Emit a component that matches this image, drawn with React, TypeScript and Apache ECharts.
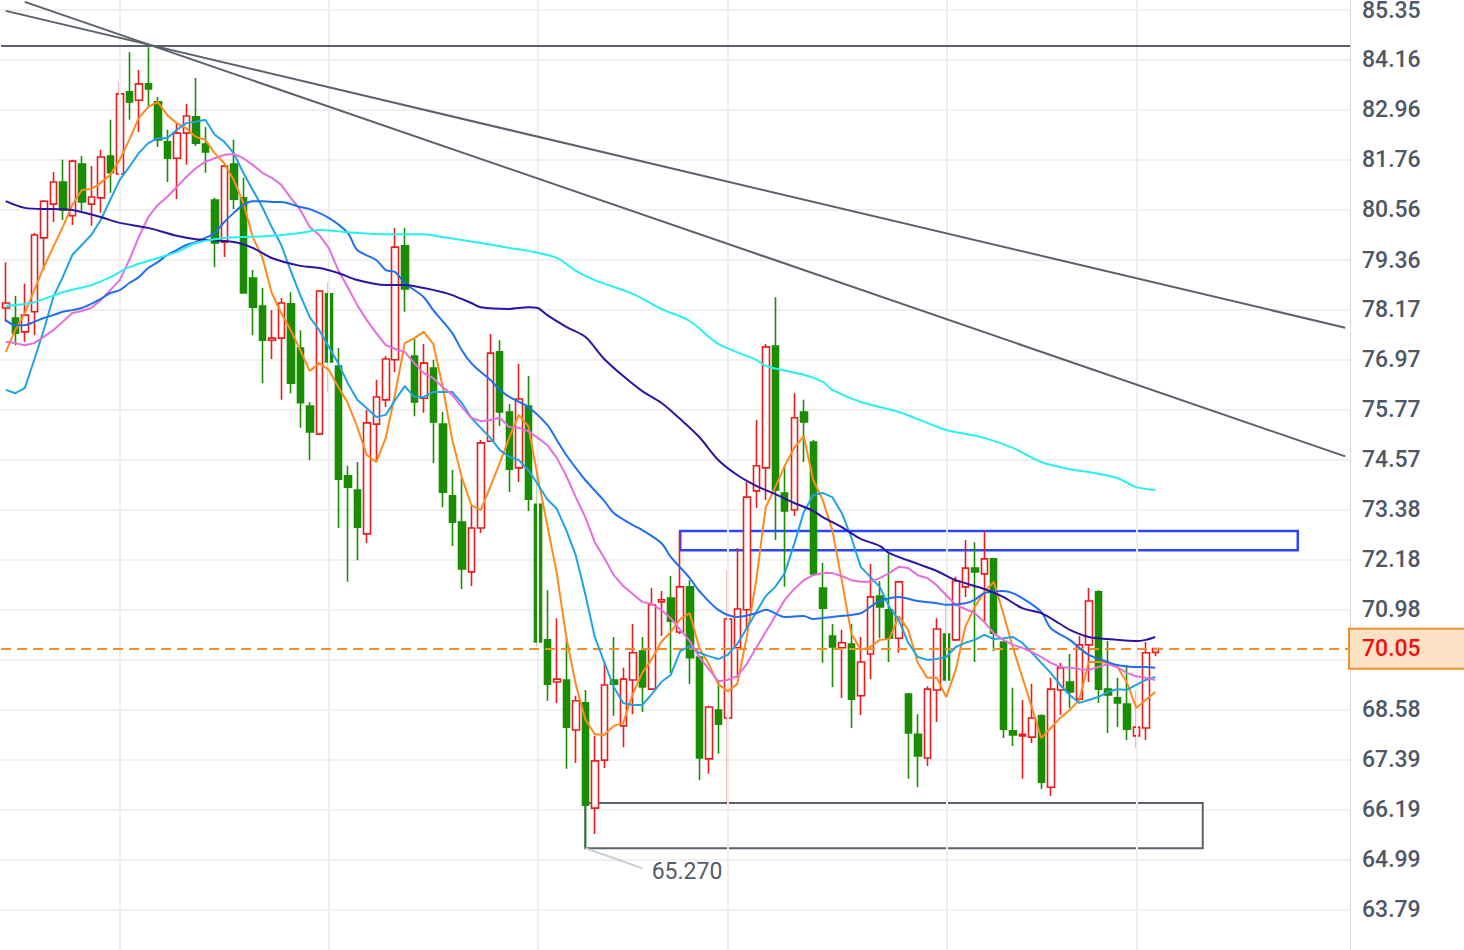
import React, { useEffect, useRef } from "react";
import * as echarts from "echarts";

// ---------- tick labels of the price axis ----------
const yLabels = [85.35, 84.16, 82.96, 81.76, 80.56, 79.36, 78.17, 76.97, 75.77, 74.57, 73.38, 72.18, 70.98, 69.78, 68.58, 67.39, 66.19, 64.99, 63.79];
const yMin = 62.83;
const yMax = 85.59;

// ---------- categories (trading sessions + empty future slots) ----------
const totalSlots = 142;
const categories = Array.from({ length: totalSlots }, (_, i) => `K${i + 1}`);
const monthStarts = [12, 34, 56, 76, 99, 119];

// ---------- candles: [open, close, low, high] ----------
const candles = [
  [78.21, 78.33, 77.88, 79.31], [77.97, 77.61, 77.32, 78.50], [77.64, 78.04, 77.40, 78.79], [78.12, 79.96, 77.56, 80.01],
  [79.89, 80.77, 79.12, 80.80], [80.70, 81.23, 80.27, 81.47], [81.23, 80.56, 80.32, 81.76], [80.42, 81.73, 80.20, 81.76],
  [81.66, 80.75, 80.54, 81.85], [80.70, 80.87, 80.18, 81.61], [80.85, 81.83, 80.49, 82.00], [81.85, 81.45, 80.97, 82.72],
  [81.42, 83.34, 81.40, 83.63], [83.39, 83.15, 82.72, 84.34], [83.19, 83.58, 82.43, 83.91], [83.58, 83.46, 83.03, 84.46],
  [83.15, 82.24, 82.07, 83.27], [82.19, 81.80, 81.23, 82.48], [81.80, 82.40, 80.82, 82.62], [82.40, 82.81, 81.64, 83.10],
  [82.79, 82.16, 82.09, 83.72], [82.14, 81.95, 81.45, 82.55], [80.80, 79.77, 79.19, 80.85], [79.79, 81.61, 79.43, 81.64],
  [81.66, 80.82, 80.58, 82.24], [80.85, 78.57, 78.57, 81.33], [78.93, 78.23, 77.56, 79.12], [78.26, 77.44, 76.41, 78.69],
  [77.44, 77.49, 76.99, 78.16], [77.49, 78.33, 76.01, 78.45], [78.31, 76.41, 76.17, 78.59], [77.25, 75.94, 75.34, 77.68],
  [75.86, 75.24, 74.57, 75.96], [75.19, 78.62, 75.17, 78.64], [78.55, 76.92, 76.20, 78.83], [76.82, 74.11, 72.94, 77.25],
  [74.19, 73.92, 71.65, 74.43], [73.85, 72.96, 72.17, 74.52], [72.80, 75.46, 72.58, 75.77], [75.43, 76.08, 74.52, 76.49],
  [76.01, 76.99, 75.84, 77.06], [76.97, 79.67, 76.68, 80.13], [79.70, 78.67, 78.12, 80.13], [77.06, 75.96, 75.62, 77.47],
  [76.05, 76.89, 75.70, 77.35], [76.77, 75.48, 74.50, 76.97], [75.43, 73.80, 73.44, 75.72], [73.71, 73.08, 72.51, 74.33],
  [73.08, 71.96, 71.48, 74.14], [71.89, 72.94, 71.55, 73.47], [72.94, 74.98, 72.82, 75.05], [75.02, 77.13, 75.02, 77.59],
  [77.16, 75.72, 75.38, 77.44], [75.72, 74.35, 73.80, 75.91], [74.38, 76.03, 74.04, 76.87], [75.86, 73.63, 73.35, 76.58],
  [73.51, 70.21, 70.11, 74.38], [70.26, 69.20, 68.80, 71.45], [69.25, 69.32, 68.75, 70.78], [69.30, 68.17, 67.17, 70.33],
  [68.10, 68.80, 67.31, 68.92], [68.75, 66.30, 65.27, 69.06], [66.23, 67.36, 65.61, 67.96], [67.38, 69.18, 67.19, 69.73],
  [69.30, 69.20, 68.44, 70.33], [68.20, 69.32, 67.69, 69.59], [69.30, 69.95, 68.48, 70.64], [69.99, 69.13, 68.53, 70.33],
  [69.08, 71.10, 69.08, 71.50], [71.17, 71.22, 70.35, 71.43], [71.26, 70.71, 69.47, 71.79], [70.45, 71.53, 70.40, 72.86],
  [71.53, 69.83, 69.20, 71.69], [69.85, 67.43, 66.90, 69.85], [67.41, 68.65, 67.05, 68.68], [68.58, 68.24, 67.53, 69.30],
  [68.39, 70.76, 66.30, 71.93], [70.07, 71.00, 69.35, 72.46], [70.98, 73.68, 70.50, 74.04], [73.83, 74.43, 73.42, 75.53],
  [74.38, 77.28, 73.61, 77.35], [77.30, 73.85, 72.65, 78.47], [73.78, 73.35, 71.53, 74.43], [73.37, 75.58, 73.23, 76.17],
  [75.72, 75.48, 74.52, 76.01], [75.00, 71.84, 71.79, 75.05], [71.50, 71.02, 69.71, 72.10], [70.35, 70.09, 69.13, 70.64],
  [70.07, 70.19, 68.87, 70.50], [70.16, 68.84, 68.15, 70.64], [68.92, 69.73, 68.46, 70.33], [69.92, 71.29, 69.32, 72.08],
  [71.31, 71.05, 70.30, 71.67], [70.98, 70.30, 69.73, 72.32], [70.30, 71.65, 69.95, 71.67], [68.96, 68.03, 66.93, 68.99],
  [68.00, 67.48, 66.73, 68.48], [67.43, 69.08, 67.24, 69.15], [69.06, 70.52, 68.29, 70.78], [70.40, 69.30, 69.25, 71.41],
  [70.26, 71.67, 70.23, 71.77], [71.53, 71.98, 71.29, 72.65], [71.98, 71.89, 69.73, 72.60], [71.84, 72.20, 70.66, 72.87],
  [72.20, 70.42, 69.99, 72.22], [70.21, 68.12, 67.91, 70.21], [68.08, 67.98, 67.72, 69.11], [67.96, 68.00, 66.93, 68.82],
  [67.93, 68.39, 67.79, 69.20], [68.44, 66.85, 66.69, 68.48], [66.73, 69.08, 66.52, 69.35], [69.06, 69.59, 68.46, 69.71],
  [69.25, 69.01, 68.63, 69.92], [68.84, 70.14, 68.82, 70.35], [70.14, 71.19, 69.25, 71.50], [71.41, 69.08, 68.75, 71.45],
  [69.08, 68.94, 68.03, 70.23], [68.87, 68.75, 68.17, 69.35], [68.72, 68.12, 67.86, 69.66], [67.96, 68.17, 67.67, 69.06],
  [68.15, 69.95, 67.86, 70.21], [69.96, 70.05, 69.87, 70.06],
];

// ---------- moving averages ----------
const ma5 = [
  77.16, 77.68, 78.09, 78.64, 79.19, 79.67, 80.15, 80.68, 81.04, 81.06,
  81.21, 81.40, 81.76, 82.24, 82.76, 83.03, 83.15, 82.83, 82.64, 82.52,
  82.31, 82.24, 81.92, 81.68, 81.28, 80.73, 79.91, 79.43, 78.57, 78.09,
  77.68, 77.20, 76.70, 76.89, 76.73, 76.32, 75.94, 75.36, 74.69, 74.52,
  75.10, 76.17, 77.37, 77.49, 77.64, 77.35, 76.32, 75.05, 74.16, 73.49,
  73.37, 73.92, 74.50, 75.10, 75.65, 75.38, 74.16, 73.01, 71.86, 70.33,
  69.20, 68.36, 68.00, 67.98, 68.20, 68.27, 68.96, 69.47, 69.80, 70.21,
  70.45, 70.76, 70.90, 70.07, 69.68, 69.20, 69.03, 69.20, 70.33, 71.69,
  73.44, 73.92, 74.43, 74.86, 75.14, 74.09, 73.61, 72.89, 71.69, 70.42,
  70.02, 70.09, 70.26, 70.28, 70.83, 70.50, 69.71, 69.35, 69.35, 68.89,
  69.54, 70.57, 71.05, 71.41, 71.65, 70.90, 70.09, 69.37, 68.65, 67.91,
  68.15, 68.39, 68.58, 68.82, 69.73, 69.73, 69.71, 69.61, 69.25, 68.63, 68.82, 69.01,
];
const ma10 = [
  76.25, 76.17, 76.29, 76.97, 77.68, 78.47, 78.95, 79.48, 79.72, 79.96,
  80.32, 80.80, 81.28, 81.59, 81.92, 82.16, 82.28, 82.28, 82.48, 82.64,
  82.67, 82.72, 82.36, 82.19, 81.92, 81.45, 81.04, 80.63, 80.15, 79.72,
  79.10, 78.52, 77.99, 77.68, 77.28, 76.89, 76.41, 76.01, 75.81, 75.60,
  75.65, 76.01, 76.34, 76.08, 76.08, 76.20, 76.20, 76.20, 75.94, 75.58,
  75.34, 75.10, 74.81, 74.64, 74.57, 74.33, 73.99, 73.63, 73.40, 72.89,
  72.29, 71.36, 70.33, 69.73, 69.13, 68.75, 68.70, 68.70, 68.96, 69.25,
  69.42, 69.99, 70.11, 69.95, 69.87, 69.80, 69.90, 70.16, 70.54, 70.93,
  71.31, 71.53, 71.86, 72.56, 73.32, 73.73, 73.78, 73.68, 73.30, 72.72,
  72.01, 71.77, 71.53, 71.05, 70.74, 70.19, 69.85, 69.78, 69.80, 69.85,
  70.09, 70.19, 70.26, 70.38, 70.28, 70.30, 70.33, 70.19, 69.95, 69.71,
  69.47, 69.18, 68.94, 68.75, 68.82, 68.89, 69.01, 69.08, 69.06, 69.18, 69.30, 69.37,
];
const ma20 = [
  77.40, 77.37, 77.32, 77.37, 77.52, 77.68, 77.88, 78.09, 78.14, 78.21,
  78.40, 78.64, 78.88, 79.36, 79.91, 80.39, 80.68, 80.87, 81.11, 81.35,
  81.56, 81.71, 81.80, 81.88, 81.90, 81.80, 81.64, 81.45, 81.33, 81.16,
  80.85, 80.56, 80.15, 79.96, 79.65, 79.12, 78.71, 78.28, 77.92, 77.61,
  77.32, 77.23, 77.16, 76.89, 76.65, 76.53, 76.32, 76.13, 75.84, 75.58,
  75.50, 75.53, 75.58, 75.36, 75.34, 75.26, 75.10, 74.93, 74.62, 74.19,
  73.68, 73.20, 72.60, 72.22, 71.81, 71.55, 71.36, 71.17, 71.12, 70.98,
  70.78, 70.50, 70.23, 69.85, 69.56, 69.27, 69.30, 69.39, 69.68, 70.07,
  70.45, 70.83, 71.22, 71.48, 71.69, 71.81, 71.86, 71.86, 71.79, 71.69,
  71.65, 71.65, 71.74, 71.86, 72.01, 71.98, 71.81, 71.74, 71.57, 71.33,
  71.10, 71.00, 70.90, 70.69, 70.42, 70.26, 70.14, 70.07, 69.97, 69.85,
  69.71, 69.61, 69.59, 69.56, 69.54, 69.61, 69.68, 69.61, 69.47, 69.39, 69.35, 69.30,
];
// slower averages, sampled at [session index, value]
const ma30 = [
  [0, 77.92], [1, 77.80], [2, 77.80], [3, 77.88], [4, 77.97], [5, 78.04], [6, 78.12], [7, 78.16], [8, 78.21], [9, 78.31],
  [10, 78.43], [11, 78.57], [12, 78.64], [13, 78.81], [14, 78.95], [15, 79.17], [16, 79.31], [17, 79.48], [18, 79.60], [19, 79.72],
  [20, 79.79], [21, 79.89], [22, 80.01], [23, 80.27], [24, 80.49], [25, 80.68], [26, 80.77], [27, 80.77], [28, 80.75], [29, 80.75],
  [30, 80.70], [31, 80.63], [32, 80.58], [34, 80.37], [36, 80.01], [37, 79.60], [39, 79.36], [40, 79.12], [41, 79.07], [42, 78.81],
  [44, 78.47], [45, 78.16], [47, 77.61], [48, 77.20], [49, 76.89], [50, 76.68], [51, 76.49], [52, 76.25], [53, 76.08], [55, 75.84],
  [57, 75.41], [58, 75.05], [59, 74.69], [60, 74.38], [61, 74.09], [63, 73.59], [64, 73.30], [66, 73.01], [67, 72.89], [69, 72.58],
  [70, 72.25], [72, 71.74], [73, 71.43], [75, 70.98], [77, 70.81], [79, 70.90], [80, 70.98], [82, 70.81], [84, 70.83], [85, 70.76],
  [87, 70.81], [90, 70.90], [91, 71.05], [92, 71.19], [94, 71.29], [96, 71.19], [98, 71.14], [99, 71.10], [101, 71.14], [102, 71.22],
  [103, 71.38], [105, 71.43], [106, 71.38], [107, 71.26], [109, 70.93], [110, 70.54], [112, 70.26], [113, 70.07], [114, 69.90], [116, 69.73],
  [117, 69.66], [119, 69.61], [120, 69.61], [121, 69.59],
];
const ma60 = [
  [0, 80.77], [2, 80.61], [5, 80.58], [7, 80.56], [10, 80.39], [12, 80.25], [15, 80.13], [18, 79.94], [20, 79.86], [24, 79.79],
  [26, 79.65], [28, 79.41], [31, 79.22], [33, 79.17], [35, 79.05], [37, 78.88], [40, 78.76], [42, 78.76], [44, 78.69], [46, 78.59],
  [47, 78.52], [49, 78.33], [50, 78.23], [53, 78.19], [55, 78.23], [56, 78.21], [57, 78.04], [59, 77.76], [61, 77.52], [63, 76.99],
  [65, 76.58], [67, 76.22], [69, 75.94], [71, 75.55], [73, 75.12], [75, 74.57], [77, 74.21], [79, 73.95], [81, 73.75], [83, 73.54],
  [85, 73.35], [86, 73.20], [88, 72.96], [90, 72.68], [92, 72.51], [93, 72.34], [96, 72.08], [98, 71.91], [100, 71.69], [103, 71.48],
  [105, 71.29], [107, 71.02], [109, 70.90], [111, 70.64], [112, 70.50], [114, 70.33], [117, 70.26], [119, 70.23], [120, 70.26], [121, 70.33],
];
const ma120 = [
  [0, 78.26], [3, 78.35], [6, 78.59], [9, 78.76], [11, 78.95], [13, 79.19], [16, 79.41], [18, 79.55], [20, 79.77], [23, 79.89],
  [25, 79.91], [28, 79.94], [31, 80.01], [33, 80.08], [37, 80.01], [40, 79.98], [44, 79.98], [46, 79.91], [50, 79.77], [53, 79.65],
  [55, 79.58], [58, 79.41], [60, 79.10], [62, 78.88], [66, 78.55], [69, 78.19], [72, 77.90], [75, 77.35], [79, 76.97], [80, 76.82],
  [84, 76.61], [86, 76.44], [87, 76.25], [90, 75.96], [94, 75.72], [97, 75.46], [99, 75.29], [103, 75.10], [106, 74.86], [109, 74.52],
  [112, 74.35], [114, 74.28], [117, 74.14], [119, 73.92], [121, 73.85],
];

// ---------- drawings ----------
const resistanceLevel = 84.49;
const trendSteep = [[2, 85.544], [141, 74.655]];
const trendShallow = [[0, 85.33], [141, 77.74]];
const upperBox = [[71, 72.87], [136, 72.41]];
const lowerBox = [[61, 66.35], [126, 65.27]];
const lowLeader = [[61, 65.27], [67, 64.79]];
const lowLabel = "65.270";
const currentPrice = 70.05;

export default function App() {
  const ref = useRef<HTMLDivElement>(null);

  useEffect(() => {
    if (!ref.current) return;
    const chart = echarts.init(ref.current, undefined, { renderer: "svg" });
    const grey = "#5a606c";
    const maLine = (name: string, data: any[], color: string, smooth: number | boolean) => ({
      name,
      type: "line",
      data,
      showSymbol: false,
      symbol: "none",
      smooth,
      silent: true,
      z: 5,
      lineStyle: { color, width: 2 },
    });

    const option: any = {
      animation: false,
      backgroundColor: "#ffffff",
      grid: { left: 1, top: 0, width: 1349, height: 950, containLabel: false, outerBoundsMode: "none" },
      xAxis: {
        type: "category",
        data: categories,
        boundaryGap: true,
        axisLine: { show: false },
        axisTick: { show: false },
        axisLabel: { show: false },
        splitLine: { show: false },
      },
      yAxis: {
        type: "value",
        position: "right",
        min: yMin,
        max: yMax,
        axisLine: { show: true, lineStyle: { color: "#d5d8dd", width: 1 } },
        axisTick: { show: false, customValues: yLabels },
        axisLabel: {
          customValues: yLabels,
          formatter: (v: number) => v.toFixed(2),
          color: "#4e5765",
          fontSize: 23,
          fontFamily: "Roboto",
          fontWeight: 500,
          margin: 12,
        },
        splitLine: { show: true, lineStyle: { color: "#f0f0f0", width: 2 } },
      },
      series: [
        {
          name: "months",
          type: "line",
          data: [],
          silent: true,
          z: 1,
          markLine: {
            silent: true,
            symbol: ["none", "none"],
            label: { show: false },
            lineStyle: { color: "#eeeeee", width: 2, type: "solid" },
            data: monthStarts.map((i) => ({ xAxis: i })),
          },
        },
        {
          name: "K",
          type: "candlestick",
          data: candles,
          barWidth: 7,
          z: 3,
          itemStyle: {
            color: "#ffffff",
            color0: "#1a8d00",
            borderColor: "#ec1b1b",
            borderColor0: "#1a8d00",
            borderWidth: 1.6,
          },
          markArea: {
            silent: true,
            data: [
              [
                { coord: upperBox[0], itemStyle: { color: "rgba(0,0,0,0)", borderColor: "#2a46ff", borderWidth: 2.5 } },
                { coord: upperBox[1] },
              ],
              [
                { coord: lowerBox[0], itemStyle: { color: "rgba(0,0,0,0)", borderColor: "#5b616d", borderWidth: 2 } },
                { coord: lowerBox[1] },
              ],
            ],
          },
          markLine: {
            silent: true,
            symbol: ["none", "none"],
            data: [
              { yAxis: resistanceLevel, lineStyle: { color: grey, width: 2, type: "solid" }, label: { show: false } },
              [
                { coord: trendSteep[0], lineStyle: { color: grey, width: 2, type: "solid" }, label: { show: false } },
                { coord: trendSteep[1] },
              ],
              [
                { coord: trendShallow[0], lineStyle: { color: grey, width: 2, type: "solid" }, label: { show: false } },
                { coord: trendShallow[1] },
              ],
              [
                {
                  coord: lowLeader[0],
                  lineStyle: { color: "#c8cfd7", width: 2, type: "solid" },
                  label: { show: true, position: "end", formatter: lowLabel, color: "#555b67", fontSize: 23, fontFamily: "Roboto", distance: 10 },
                },
                { coord: lowLeader[1] },
              ],
              {
                yAxis: currentPrice,
                lineStyle: { color: "#f1902a", width: 2, type: [10, 6] },
                label: {
                  show: true,
                  position: "end",
                  distance: 0,
                  formatter: currentPrice.toFixed(2),
                  color: "#ee1111",
                  fontSize: 23,
                  fontFamily: "Roboto",
                  fontWeight: 500,
                  backgroundColor: "#fee2c5",
                  borderColor: "#f0922b",
                  borderWidth: 2,
                  padding: [8, 60, 7, 12],
                },
              },
            ],
          },
        },
        maLine("MA5", ma5, "#ff8a1c", false),
        maLine("MA10", ma10, "#1fa3e6", false),
        maLine("MA20", ma20, "#e46fdc", false),
        maLine("MA30", ma30, "#1f6ff0", 0.3),
        maLine("MA60", ma60, "#2d12a3", 0.3),
        maLine("MA120", ma120, "#27f0f0", 0.3),
      ],
    };
    chart.setOption(option);
    return () => chart.dispose();
  }, []);

  return (
    <div
      ref={ref}
      style={{ position: "absolute", left: 0, top: 0, width: 1464, height: 950, background: "#ffffff" }}
    />
  );
}
